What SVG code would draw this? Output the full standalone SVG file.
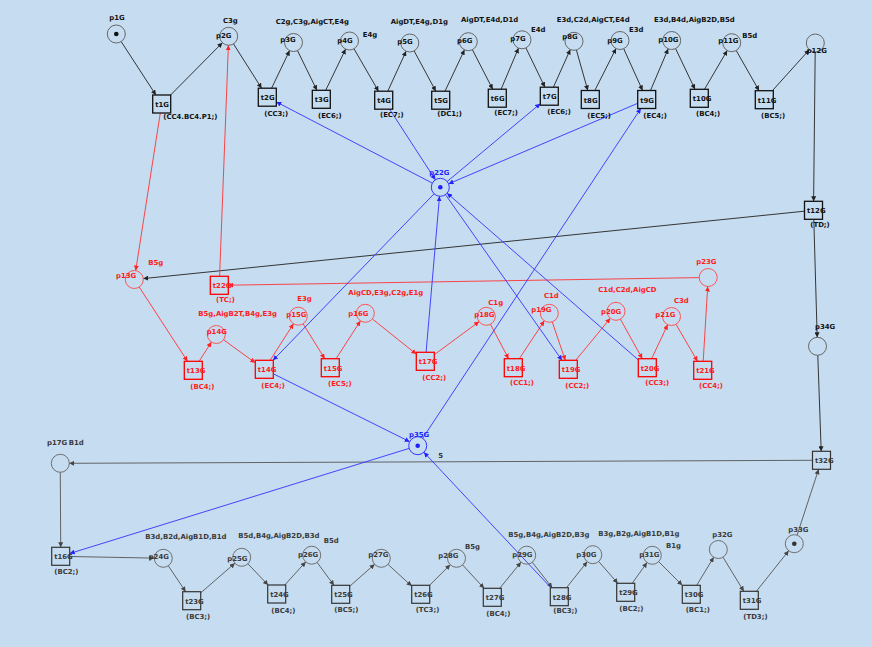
<svg xmlns="http://www.w3.org/2000/svg" width="872" height="647" viewBox="0 0 872 647">
<defs>
<style>
text{font-family:"DejaVu Sans","Liberation Sans",sans-serif;font-size:6.9px;font-weight:bold}
.k text{fill:#111}
.g text{fill:#3a3a3a}
.r text{fill:#ff1a1a}
.b text{fill:#1f1fff}
.pk{fill:none;stroke:#666;stroke-width:1}
.tk{fill:none;stroke:#111;stroke-width:1.3}
.pg{fill:none;stroke:#707070;stroke-width:1}
.tg{fill:none;stroke:#333;stroke-width:1.2}
.pr{fill:none;stroke:#f55;stroke-width:1}
.tr{fill:none;stroke:#f00;stroke-width:1.3}
.pb{fill:none;stroke:#33f;stroke-width:1}
.ck{stroke:#222;stroke-width:0.9;fill:none;marker-end:url(#ak)}
.cg{stroke:#555;stroke-width:0.9;fill:none;marker-end:url(#ag)}
.cr{stroke:#f33;stroke-width:0.9;fill:none;marker-end:url(#ar)}
.cb{stroke:#33f;stroke-width:0.9;fill:none;marker-end:url(#ab)}
</style>
<marker id="ak" viewBox="0 0 6 6" refX="6" refY="3" markerWidth="5" markerHeight="5" markerUnits="userSpaceOnUse" orient="auto"><path d="M0,0L6,3L0,6z" fill="#222"/></marker>
<marker id="ag" viewBox="0 0 6 6" refX="6" refY="3" markerWidth="5" markerHeight="5" markerUnits="userSpaceOnUse" orient="auto"><path d="M0,0L6,3L0,6z" fill="#444"/></marker>
<marker id="ar" viewBox="0 0 6 6" refX="6" refY="3" markerWidth="5" markerHeight="5" markerUnits="userSpaceOnUse" orient="auto"><path d="M0,0L6,3L0,6z" fill="#f22"/></marker>
<marker id="ab" viewBox="0 0 6 6" refX="6" refY="3" markerWidth="5" markerHeight="5" markerUnits="userSpaceOnUse" orient="auto"><path d="M0,0L6,3L0,6z" fill="#22f"/></marker>
</defs>
<rect width="872" height="647" fill="#c6dcf0"/>

<g id="connectors">
<path class="ck" d="M121.2,41.6L155.9,95"/>
<path class="ck" d="M170.6,95L222.4,42.7"/>
<path class="ck" d="M233.5,43.9L261.6,88.2"/>
<path class="ck" d="M271.6,88.2L289.6,50.6"/>
<path class="ck" d="M297.5,50.6L316.9,90.3"/>
<path class="ck" d="M325.7,90.3L345.6,49.1"/>
<path class="ck" d="M354,48.8L378.5,91.2"/>
<path class="ck" d="M387.8,91.2L406.1,51.2"/>
<path class="ck" d="M414.1,50.9L435.8,91.2"/>
<path class="ck" d="M445,91.2L464.5,49.8"/>
<path class="ck" d="M472.4,49.7L492.7,89.2"/>
<path class="ck" d="M501.1,89.2L518.5,48.1"/>
<path class="ck" d="M525.9,47.9L544.9,87.2"/>
<path class="ck" d="M553.4,87.2L570.3,49.5"/>
<path class="ck" d="M576.4,50L587.8,90.5"/>
<path class="ck" d="M594.8,90.5L616,48.5"/>
<path class="ck" d="M623.7,48.7L642.6,90.5"/>
<path class="ck" d="M650.5,90.5L668.2,48.8"/>
<path class="ck" d="M675.6,48.6L695,89.3"/>
<path class="ck" d="M704.5,89.3L727.2,50.5"/>
<path class="ck" d="M736.2,50.5L759.1,90.7"/>
<path class="ck" d="M772.4,90.7L809.3,49.7"/>
<path class="ck" d="M815.2,52L813.6,201.3"/>
<path class="ck" d="M804.5,211.2L143.3,278.6"/>
<path class="ck" d="M813.8,219.3L817.2,337.3"/>
<path class="ck" d="M817.8,355.3L821.2,451.3"/>
<path class="cg" d="M812.5,460.3L69.3,463.3"/>
<text x="438.3" y="458.3" fill="#333">5</text>
<path class="cg" d="M60.3,472.3L60.7,547.3"/>
<path class="cg" d="M69.7,556.5L154.3,558.1"/>
<path class="cg" d="M168.3,565.8L185.7,591.7"/>
<path class="cg" d="M200.7,592.9L234.9,563.2"/>
<path class="cg" d="M247.9,563.8L268.1,585"/>
<path class="cg" d="M284.8,585L305.7,561.9"/>
<path class="cg" d="M317.1,562.4L334,585.3"/>
<path class="cg" d="M349.7,586.3L374.6,564.3"/>
<path class="cg" d="M388,564.4L411.7,586.1"/>
<path class="cg" d="M429.6,585.3L450.2,564.7"/>
<path class="cg" d="M462.6,564.9L484.1,588.3"/>
<path class="cg" d="M499.7,588.3L521,562.2"/>
<path class="cg" d="M532.3,562.3L552.2,587.7"/>
<path class="cg" d="M566.5,587.7L587.2,561.7"/>
<path class="cg" d="M598.7,561.5L617.8,583.3"/>
<path class="cg" d="M632.2,583.3L647,562.6"/>
<path class="cg" d="M658.7,561.7L682.3,585.3"/>
<path class="cg" d="M696.7,585.3L713.7,557.2"/>
<path class="cg" d="M723,557.2L743.8,591.3"/>
<path class="cg" d="M756.4,591.3L788.7,550.7"/>
<path class="cg" d="M797.1,535.1L818.6,469.3"/>
<path class="cr" d="M160.3,113L135.7,270.6"/>
<path class="cr" d="M219.6,276.3L228.4,45.3"/>
<path class="cr" d="M699.2,277.6L228.3,285.2"/>
<path class="cr" d="M139.2,287L187.5,361.3"/>
<path class="cr" d="M199.1,361.3L211.4,342.1"/>
<path class="cr" d="M223.6,339.8L255.3,362.8"/>
<path class="cr" d="M270.1,360.3L293.5,323.8"/>
<path class="cr" d="M303.1,323.8L324.7,358.7"/>
<path class="cr" d="M336.1,358.7L360.4,320.9"/>
<path class="cr" d="M372.3,318.9L416.3,354.1"/>
<path class="cr" d="M434.3,354.7L479.1,321.6"/>
<path class="cr" d="M490.5,324.3L508.6,358.7"/>
<path class="cr" d="M519.3,358.7L544.3,320.8"/>
<path class="cr" d="M552.2,321.8L565.3,360.3"/>
<path class="cr" d="M575.7,360.3L610.3,318.3"/>
<path class="cr" d="M620.4,319.2L642.3,358.7"/>
<path class="cr" d="M651.6,358.7L667.7,324.6"/>
<path class="cr" d="M676,324.3L697.5,361.3"/>
<path class="cr" d="M703.2,361.3L707.7,286.5"/>
<path class="cb" d="M432.3,183.1L276.3,101.9"/>
<path class="cb" d="M389.6,109.2L435.4,179.8"/>
<path class="cb" d="M447.2,181.5L540.3,103.7"/>
<path class="cb" d="M637.7,103.3L448.6,183.8"/>
<path class="cb" d="M422.7,438.2L640.8,108.5"/>
<path class="cb" d="M434.1,193.8L273,360.3"/>
<path class="cb" d="M426.1,352.3L439.5,196.3"/>
<path class="cb" d="M445.5,194.7L562,360.3"/>
<path class="cb" d="M638.3,359.9L447.1,193.2"/>
<path class="cb" d="M273.3,373.8L409.7,441.7"/>
<path class="cb" d="M409.1,448.4L69.7,553.5"/>
<path class="cb" d="M550.9,587.7L423.9,452.3"/>
</g>

<g class="k">
<g id="p1G"><circle class="pk" cx="116.3" cy="34" r="9"/><circle cx="116.3" cy="34" r="2.3" fill="#111"/><text x="109.3" y="20">p1G</text></g>
<g id="t1G"><rect class="tk" x="152.7" y="95" width="18" height="18"/><text x="155.2" y="107">t1G</text><text x="163.3" y="119.3">(CC4.BC4.P1;)</text></g>
<g id="p2G"><circle class="pk" cx="228.7" cy="36.3" r="9"/><text x="223" y="23.3">C3g</text><text x="216" y="38.3">p2G</text></g>
<g id="t2G"><rect class="tk" x="258.3" y="88.2" width="18" height="18"/><text x="260.8" y="100.2">t2G</text><text x="264.3" y="116">(CC3;)</text></g>
<g id="p3G"><circle class="pk" cx="293.5" cy="42.5" r="9"/><text x="275.7" y="24">C2g,C3g,AigCT,E4g</text><text x="280.3" y="41.7">p3G</text></g>
<g id="t3G"><rect class="tk" x="312.3" y="90.3" width="18" height="18"/><text x="314.8" y="102.3">t3G</text><text x="318" y="117.7">(EC6;)</text></g>
<g id="p4G"><circle class="pk" cx="349.5" cy="41" r="9"/><text x="362.7" y="37.3">E4g</text><text x="337.3" y="42.7">p4G</text></g>
<g id="t4G"><rect class="tk" x="374.7" y="91.2" width="18" height="18"/><text x="377.2" y="103.2">t4G</text><text x="380" y="117.3">(EC7;)</text></g>
<g id="p5G"><circle class="pk" cx="409.8" cy="43" r="9"/><text x="390.7" y="24">AigDT,E4g,D1g</text><text x="397.3" y="43.7">p5G</text></g>
<g id="t5G"><rect class="tk" x="431.7" y="91.2" width="18" height="18"/><text x="434.2" y="103.2">t5G</text><text x="437.3" y="116">(DC1;)</text></g>
<g id="p6G"><circle class="pk" cx="468.3" cy="41.7" r="9"/><text x="461" y="22.3">AigDT,E4d,D1d</text><text x="457" y="42.7">p6G</text></g>
<g id="t6G"><rect class="tk" x="488.3" y="89.2" width="18" height="18"/><text x="490.8" y="101.2">t6G</text><text x="494.3" y="115">(EC7;)</text></g>
<g id="p7G"><circle class="pk" cx="522" cy="39.8" r="9"/><text x="531" y="32.3">E4d</text><text x="510.3" y="41">p7G</text></g>
<g id="t7G"><rect class="tk" x="540.3" y="87.2" width="18" height="18"/><text x="542.8" y="99.2">t7G</text><text x="547.3" y="113.7">(EC6;)</text></g>
<g id="p8G"><circle class="pk" cx="574" cy="41.3" r="9"/><text x="556.7" y="21.7">E3d,C2d,AigCT,E4d</text><text x="562.3" y="39.3">p8G</text></g>
<g id="t8G"><rect class="tk" x="581.3" y="90.5" width="18" height="18"/><text x="583.8" y="102.5">t8G</text><text x="587.3" y="117.7">(EC5;)</text></g>
<g id="p9G"><circle class="pk" cx="620" cy="40.5" r="9"/><text x="629" y="31.7">E3d</text><text x="607.3" y="43.3">p9G</text></g>
<g id="t9G"><rect class="tk" x="637.7" y="90.5" width="18" height="18"/><text x="640.2" y="102.5">t9G</text><text x="643.3" y="117.7">(EC4;)</text></g>
<g id="p10G"><circle class="pk" cx="671.7" cy="40.5" r="9"/><text x="654" y="22.3">E3d,B4d,AigB2D,B5d</text><text x="658.3" y="42.3">p10G</text></g>
<g id="t10G"><rect class="tk" x="690.3" y="89.3" width="18" height="18"/><text x="692.8" y="101.3">t10G</text><text x="696" y="115.7">(BC4;)</text></g>
<g id="p11G"><circle class="pk" cx="731.7" cy="42.7" r="9"/><text x="742.3" y="37.7">B5d</text><text x="718.3" y="43.3">p11G</text></g>
<g id="t11G"><rect class="tk" x="755.3" y="90.7" width="18" height="18"/><text x="757.8" y="102.7">t11G</text><text x="761" y="117.7">(BC5;)</text></g>
<g id="p12G"><circle class="pk" cx="815.3" cy="43" r="9"/><text x="806.7" y="52.7">p12G</text></g>
<g id="t12G"><rect class="tk" x="804.5" y="201.3" width="18" height="18"/><text x="807" y="213.3">t12G</text><text x="810.3" y="227.3">(TD;)</text></g>
<g id="p34G"><circle class="pk" cx="817.5" cy="346.3" r="9"/><text x="815" y="328.7">p34G</text></g>
</g>

<g class="g">
<g id="t32G"><rect class="tg" x="812.5" y="451.3" width="18" height="18"/><text x="815" y="463.3">t32G</text></g>
<g id="p17G"><circle class="pg" cx="60.3" cy="463.3" r="9"/><text x="47" y="445.3">p17G</text><text x="68.8" y="445.3">B1d</text></g>
<g id="t16G"><rect class="tg" x="51.7" y="547.3" width="18" height="18"/><text x="54.2" y="559.3">t16G</text><text x="54.3" y="574">(BC2;)</text></g>
<g id="p24G"><circle class="pg" cx="163.3" cy="558.3" r="9"/><text x="145.3" y="539">B3d,B2d,AigB1D,B1d</text><text x="148.7" y="558.7">p24G</text></g>
<g id="t23G"><rect class="tg" x="182.7" y="591.7" width="18" height="18"/><text x="185.2" y="603.7">t23G</text><text x="186" y="619">(BC3;)</text></g>
<g id="p25G"><circle class="pg" cx="241.7" cy="557.3" r="9"/><text x="238.3" y="538.3">B5d,B4g,AigB2D,B3d</text><text x="227.3" y="560.7">p25G</text></g>
<g id="t24G"><rect class="tg" x="267.7" y="585" width="18" height="18"/><text x="270.2" y="597">t24G</text><text x="271.3" y="612.7">(BC4;)</text></g>
<g id="p26G"><circle class="pg" cx="311.7" cy="555.2" r="9"/><text x="323.7" y="542.7">B5d</text><text x="298" y="557.3">p26G</text></g>
<g id="t25G"><rect class="tg" x="331.7" y="585.3" width="18" height="18"/><text x="334.2" y="597.3">t25G</text><text x="334.3" y="611.7">(BC5;)</text></g>
<g id="p27G"><circle class="pg" cx="381.3" cy="558.3" r="9"/><text x="368.3" y="556.7">p27G</text></g>
<g id="t26G"><rect class="tg" x="411.7" y="585.3" width="18" height="18"/><text x="414.2" y="597.3">t26G</text><text x="415.7" y="611.7">(TC3;)</text></g>
<g id="p28G"><circle class="pg" cx="456.5" cy="558.3" r="9"/><text x="465" y="549.3">B5g</text><text x="438.3" y="558.3">p28G</text></g>
<g id="t27G"><rect class="tg" x="483.3" y="588.3" width="18" height="18"/><text x="485.8" y="600.3">t27G</text><text x="486.3" y="615.7">(BC4;)</text></g>
<g id="p29G"><circle class="pg" cx="526.7" cy="555.2" r="9"/><text x="508.3" y="537.3">B5g,B4g,AigB2D,B3g</text><text x="512.3" y="557.3">p29G</text></g>
<g id="t28G"><rect class="tg" x="550.3" y="587.7" width="18" height="18"/><text x="552.8" y="599.7">t28G</text><text x="553.3" y="613.3">(BC3;)</text></g>
<g id="p30G"><circle class="pg" cx="592.8" cy="554.7" r="9"/><text x="576.3" y="556.7">p30G</text></g>
<g id="t29G"><rect class="tg" x="616.7" y="583.3" width="18" height="18"/><text x="619.2" y="595.3">t29G</text><text x="619.3" y="610.7">(BC2;)</text></g>
<g id="p31G"><circle class="pg" cx="652.3" cy="555.3" r="9"/><text x="598.3" y="535.7">B3g,B2g,AigB1D,B1g</text><text x="666" y="548.3">B1g</text><text x="639.3" y="556.7">p31G</text></g>
<g id="t30G"><rect class="tg" x="682.3" y="585.3" width="18" height="18"/><text x="684.8" y="597.3">t30G</text><text x="685.7" y="611.7">(BC1;)</text></g>
<g id="p32G"><circle class="pg" cx="718.3" cy="549.5" r="9"/><text x="712.3" y="536.7">p32G</text></g>
<g id="t31G"><rect class="tg" x="740.3" y="591.3" width="18" height="18"/><text x="742.8" y="603.3">t31G</text><text x="743.3" y="618.7">(TD3;)</text></g>
<g id="p33G"><circle class="pg" cx="794.3" cy="543.7" r="9"/><circle cx="794.3" cy="543.7" r="2.3" fill="#333"/><text x="788.3" y="531.7">p33G</text></g>
</g>

<g class="r">
<g id="p13G"><circle class="pr" cx="134.3" cy="279.5" r="9"/><text x="148.3" y="265">B5g</text><text x="116" y="278.3">p13G</text></g>
<g id="t22G"><rect class="tr" x="210.3" y="276.3" width="18" height="18"/><text x="212.8" y="288.3">t22G</text><text x="216" y="302.3">(TC;)</text></g>
<g id="p14G"><circle class="pr" cx="216.3" cy="334.5" r="9"/><text x="198.3" y="315.7">B5g,AigB2T,B4g,E3g</text><text x="206.7" y="334">p14G</text></g>
<g id="t13G"><rect class="tr" x="184.3" y="361.3" width="18" height="18"/><text x="186.8" y="373.3">t13G</text><text x="190.3" y="389">(BC4;)</text></g>
<g id="t14G"><rect class="tr" x="255.3" y="360.3" width="18" height="18"/><text x="257.8" y="372.3">t14G</text><text x="261.3" y="387.7">(EC4;)</text></g>
<g id="p15G"><circle class="pr" cx="298.3" cy="316.2" r="9"/><text x="297.3" y="301.3">E3g</text><text x="286.3" y="316.7">p15G</text></g>
<g id="t15G"><rect class="tr" x="321.3" y="358.7" width="18" height="18"/><text x="323.8" y="370.7">t15G</text><text x="328" y="385.7">(EC5;)</text></g>
<g id="p16G"><circle class="pr" cx="365.3" cy="313.3" r="9"/><text x="348.3" y="294.7">AigCD,E3g,C2g,E1g</text><text x="348.3" y="316.3">p16G</text></g>
<g id="t17G"><rect class="tr" x="416.3" y="352.3" width="18" height="18"/><text x="418.8" y="364.3">t17G</text><text x="422.3" y="380">(CC2;)</text></g>
<g id="p18G"><circle class="pr" cx="486.3" cy="316.3" r="9"/><text x="488.3" y="305.3">C1g</text><text x="474.3" y="316.7">p18G</text></g>
<g id="t18G"><rect class="tr" x="504.3" y="358.7" width="18" height="18"/><text x="506.8" y="370.7">t18G</text><text x="510" y="385">(CC1;)</text></g>
<g id="p19G"><circle class="pr" cx="549.3" cy="313.3" r="9"/><text x="544" y="297.7">C1d</text><text x="531.3" y="312.3">p19G</text></g>
<g id="t19G"><rect class="tr" x="559.3" y="360.3" width="18" height="18"/><text x="561.8" y="372.3">t19G</text><text x="565.3" y="387.7">(CC2;)</text></g>
<g id="p20G"><circle class="pr" cx="616" cy="311.3" r="9"/><text x="598.3" y="292.3">C1d,C2d,AigCD</text><text x="601" y="313.7">p20G</text></g>
<g id="t20G"><rect class="tr" x="638.3" y="358.7" width="18" height="18"/><text x="640.8" y="370.7">t20G</text><text x="645.3" y="385">(CC3;)</text></g>
<g id="p21G"><circle class="pr" cx="671.5" cy="316.5" r="9"/><text x="674" y="303.3">C3d</text><text x="655.3" y="317.3">p21G</text></g>
<g id="t21G"><rect class="tr" x="693.7" y="361.3" width="18" height="18"/><text x="696.2" y="373.3">t21G</text><text x="699" y="388.3">(CC4;)</text></g>
<g id="p23G"><circle class="pr" cx="708.2" cy="277.5" r="9"/><text x="696.3" y="264.3">p23G</text></g>
</g>

<g class="b">
<g id="p22G"><circle class="pb" cx="440.3" cy="187.3" r="9"/><circle cx="440.3" cy="187.3" r="2.3" fill="#22f"/><text x="429.3" y="174.7">p22G</text></g>
<g id="p35G"><circle class="pb" cx="417.7" cy="445.7" r="9"/><circle cx="417.7" cy="445.7" r="2.3" fill="#22f"/><text x="409" y="436.7">p35G</text></g>
</g>
</svg>
